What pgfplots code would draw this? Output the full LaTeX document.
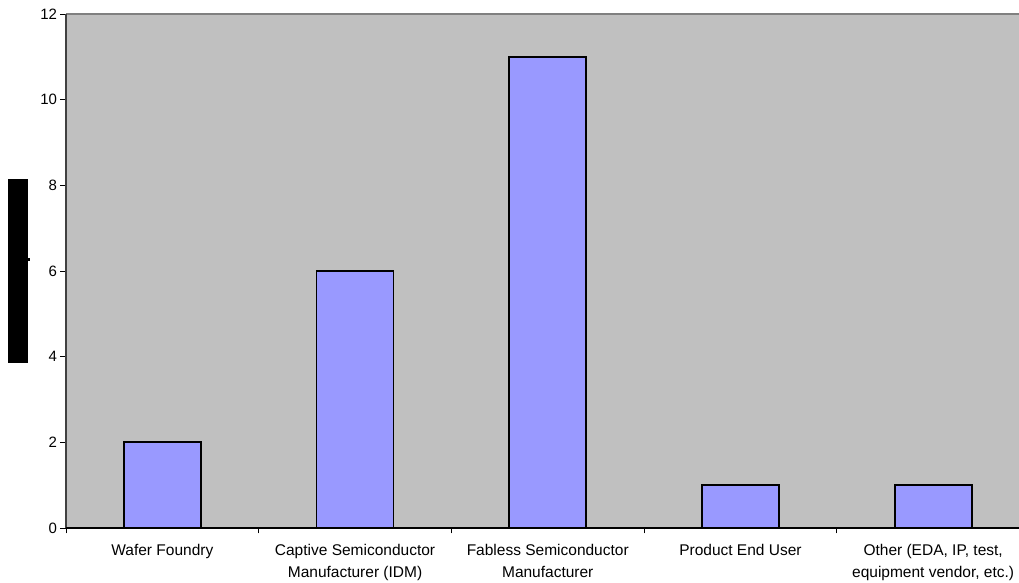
\documentclass[border=0pt]{standalone}
\usepackage{pgfplots}
\pgfplotsset{compat=1.18}
\usepackage{fontspec}
\setmainfont{Liberation Sans}
\definecolor{plotbg}{HTML}{C0C0C0}
\definecolor{barfill}{HTML}{9999FF}
\definecolor{topline}{HTML}{808080}
\definecolor{leftline}{HTML}{404040}
\begin{document}
\begin{tikzpicture}
\useasboundingbox (0bp,0bp) rectangle (1019bp,583bp);
\clip (0bp,0bp) rectangle (1019bp,583bp);
\fill[black] (8bp,220bp) rectangle (28bp,404bp);
\fill[black] (28bp,322bp) rectangle (29.5bp,325bp);
\begin{axis}[
  at={(66bp,55bp)}, anchor=south west,
  scale only axis, width=963.5bp, height=514bp,
  xmin=-0.5, xmax=4.5, ymin=0, ymax=12,
  ytick={0,2,...,12},
  xtick={-0.5,0.5,...,4.5},
  x tick label as interval,
  xticklabels={Wafer Foundry, {Captive Semiconductor\\Manufacturer (IDM)}, {Fabless Semiconductor\\Manufacturer}, Product End User, {Other (EDA, IP, test,\\equipment vendor, etc.)}},
  xtick pos=bottom, ytick pos=left,
  tick align=outside,
  major tick length=5.5bp,
  tick style={black, line width=0.9bp},
  axis line style={draw=none},
  axis background/.style={fill=plotbg},
  clip=false,
  /pgf/number format/assume math mode=true,
  yticklabel style={font=\fontsize{15bp}{21bp}\selectfont},
  xticklabel style={align=center, font=\fontsize{15.5bp}{22.5bp}\selectfont, yshift=-7bp},
]
\addplot[ybar, bar width=0.4, fill=barfill, draw=black, line width=1.8bp] coordinates {(0,2) (1,6) (2,11) (3,1) (4,1)};
\draw[topline, line width=1.5bp] (rel axis cs:0,1) -- (rel axis cs:1,1);
\draw[leftline, line width=1.5bp] (rel axis cs:0,0) -- (rel axis cs:0,1);
\draw[black, line width=1.2bp] (rel axis cs:0,0) -- (rel axis cs:1,0);
\end{axis}
\end{tikzpicture}
\end{document}
